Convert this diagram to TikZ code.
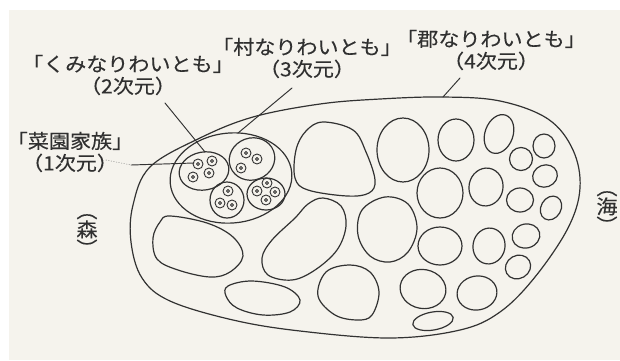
\documentclass[tikz,border=0pt]{standalone}
\usepackage{fontspec}
\newfontfamily\jp[FakeStretch=1.08,FakeBold=0.25]{Noto Sans CJK JP}
\definecolor{paper}{RGB}{245,243,237}
\definecolor{ink}{RGB}{50,50,50}
\definecolor{txt}{RGB}{48,48,48}
\begin{document}
\begin{tikzpicture}[x=1pt,y=-1pt,line join=round,line cap=round,
  blob/.style={draw=ink,line width=1.2pt},
  tiny/.style={draw=ink,line width=0.9pt},
  lead/.style={draw=ink,line width=0.95pt},
  labeltext/.style={align=center,text=txt,inner sep=0pt,font=\jp\fontsize{19.5}{22}\selectfont},
  vtext/.style={align=center,text=txt,inner sep=0pt,font=\jp\fontsize{19.5}{19}\selectfont}]
\useasboundingbox (0,0) rectangle (620,360);
\fill[white] (0,0) rectangle (620,360);
\fill[paper] (9,10) rectangle (620,360);

% outer region (4th dimension)
\draw[blob] plot[smooth cycle,tension=0.6] coordinates {(443,97)(500,101)(548,119)(573,150)(580,188)(568,228)(535,277)(500,312)(460,330)(390,338)(300,331)(233,320)(170,301)(142,278)(131,242)(133,205)(150,167)(200,138)(253,117)(320,104)(380,99)};

% village (3rd dimension)
\draw[blob,rotate around={5:(231,178)}] (231,178) ellipse [x radius=61pt,y radius=45pt];

% groups (2nd dimension)
\draw[blob,rotate around={10:(204,171)}] (204,171) ellipse [x radius=25pt,y radius=19pt];
\draw[blob,rotate around={20:(252,159)}] (252,159) ellipse [x radius=23pt,y radius=21pt];
\draw[blob] (227,200) ellipse [x radius=17pt,y radius=18pt];
\draw[blob] (266,194) ellipse [x radius=19pt,y radius=16pt];

% families (1st dimension)
\foreach \p in {(198,164),(212,161),(209,173),(193,177),
                (246,153),(257,159),(241,168),
                (228,191),(220,203),(232,205),
                (267,183),(257,191),(275,192),(266,200)}
  \draw[tiny] \p circle[radius=5pt] \p circle[radius=1.5pt];

% other villages
\draw[blob] plot[smooth cycle,tension=0.6] coordinates {(323,122)(353,130)(366,152)(375,180)(369,193)(347,196)(308,190)(295,178)(296,150)(306,131)};
\draw[blob] (403,150) ellipse [x radius=26pt,y radius=32pt];
\draw[blob] (456,140) ellipse [x radius=18pt,y radius=21pt];
\draw[blob] (440,193) ellipse [x radius=23pt,y radius=25pt];
\draw[blob,rotate around={-20:(499,134)}] (499,134) ellipse [x radius=14pt,y radius=20pt];
\draw[blob] (521,159) circle [radius=11.5pt];
\draw[blob] (544,146) ellipse [x radius=11pt,y radius=12pt];
\draw[blob,rotate around={20:(545,176)}] (545,176) ellipse [x radius=12.5pt,y radius=11pt];
\draw[blob,rotate around={-10:(486,187)}] (486,187) ellipse [x radius=17pt,y radius=19pt];
\draw[blob] (520,200) ellipse [x radius=13.5pt,y radius=12pt];
\draw[blob,rotate around={-30:(551,208)}] (551,208) ellipse [x radius=10pt,y radius=12.5pt];
\draw[blob,rotate around={-10:(489,246)}] (489,246) ellipse [x radius=16pt,y radius=18pt];
\draw[blob,rotate around={15:(526,236)}] (526,236) ellipse [x radius=14pt,y radius=12pt];
\draw[blob,rotate around={30:(518,267)}] (518,267) ellipse [x radius=13pt,y radius=11.5pt];
\draw[blob,rotate around={10:(477,293)}] (477,293) ellipse [x radius=20pt,y radius=17pt];
\draw[blob] plot[smooth cycle,tension=0.6] coordinates {(385,197)(408,204)(417,228)(408,252)(390,262)(370,256)(358,235)(362,210)};
\draw[blob] (440,246) ellipse [x radius=22pt,y radius=19pt];
\draw[blob] plot[smooth cycle,tension=0.6] coordinates {(350,265)(370,272)(379,292)(372,315)(358,320)(335,315)(318,296)(326,272)};
\draw[blob,rotate around={-10:(423,289)}] (423,289) ellipse [x radius=23pt,y radius=19.5pt];
\draw[blob,rotate around={10:(433,321)}] (433,321) ellipse [x radius=20.5pt,y radius=9pt];
\draw[blob] plot[smooth cycle,tension=0.6] coordinates {(323,198)(341,206)(346,226)(337,250)(315,270)(292,280)(268,275)(262,258)(272,240)(295,218)(308,204)};
\draw[blob] plot[smooth cycle,tension=0.6] coordinates {(170,216)(207,223)(233,237)(243,256)(230,272)(210,277)(178,270)(157,259)(153,238)(160,222)};
\draw[blob] plot[smooth cycle,tension=0.6] coordinates {(228,286)(252,281)(285,287)(300,300)(290,312)(263,315)(237,308)(226,296)};

% labels
\node[labeltext] (saien) at (70,152) {「菜園家族」\\（1次元）};
\node[labeltext] (kumi) at (128,75) {「くみなりわいとも」\\（2次元）};
\node[labeltext] (mura) at (307,58) {「村なりわいとも」\\（3次元）};
\node[labeltext] (gun) at (491,50) {「郡なりわいとも」\\（4次元）};
\node[vtext] (mori) at (87,235) {︵\\森\\︶};
\node[vtext] (umi) at (607,212) {︵\\海\\︶};

% leader lines
\coordinate (sa0) at (106,160);
\coordinate (sa1) at (131,165);
\coordinate (sa2) at (194,163);
\draw[dotted,gray,line width=0.6pt] (sa0) -- (sa1);
\draw[lead] (sa1) -- (sa2);
\coordinate (ku0) at (165,103);
\coordinate (ku1) at (205,152);
\draw[lead] (ku0) -- (ku1);
\coordinate (mu0) at (292,88);
\coordinate (mu1) at (238,133);
\draw[lead] (mu0) -- (mu1);
\coordinate (gu0) at (460,78);
\coordinate (gu1) at (443,97);
\draw[lead] (gu0) -- (gu1);
\end{tikzpicture}
\end{document}
